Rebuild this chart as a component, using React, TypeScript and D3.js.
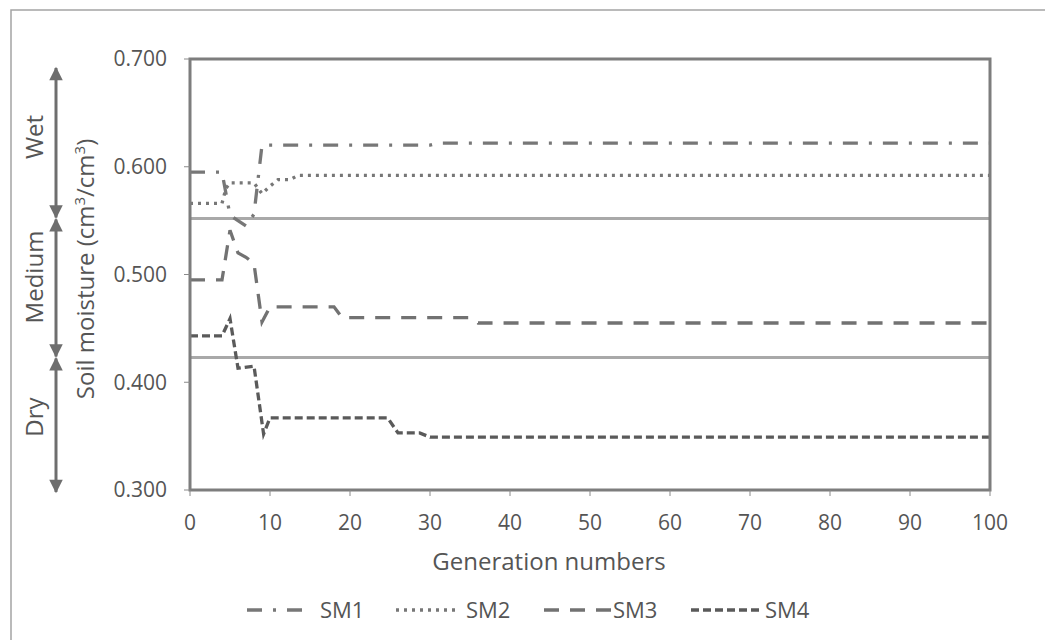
import React from 'react';
import * as d3 from 'd3';

// soil moisture per generation
const sm1 = [[0, 0.595], [4, 0.595], [5, 0.555], [7, 0.545], [8, 0.556], [9, 0.62], [30, 0.62], [31, 0.622], [100, 0.622]];
const sm2 = [[0, 0.566], [4, 0.566], [4.5, 0.58], [5, 0.585], [8, 0.585], [9, 0.575], [10, 0.582], [11, 0.588], [12.5, 0.588], [13.5, 0.592], [100, 0.592]];
const sm3 = [[0, 0.495], [4, 0.495], [5, 0.541], [6, 0.52], [7, 0.516], [8, 0.51], [9, 0.456], [10, 0.47], [18, 0.47], [19, 0.46], [35, 0.46], [36, 0.455], [100, 0.455]];
const sm4 = [[0, 0.443], [4, 0.443], [5, 0.459], [6, 0.413], [8, 0.415], [9.2, 0.352], [10, 0.367], [24.7, 0.367], [26, 0.353], [28.7, 0.353], [30, 0.349], [100, 0.349]];

const seriesNames = ['SM1', 'SM2', 'SM3', 'SM4'];
const xTicks = [0, 10, 20, 30, 40, 50, 60, 70, 80, 90, 100];
const yTicks = [0.3, 0.4, 0.5, 0.6, 0.7];
const thresholds = [0.552, 0.423];
const zones = [
  { name: 'Wet', from: 0.7, to: 0.552, label: 137 },
  { name: 'Medium', from: 0.552, to: 0.423, label: 277 },
  { name: 'Dry', from: 0.423, to: 0.3, label: 417 },
];

const FONT = '"Open Sans", sans-serif';
const TXT = '#555';

const styles = [
  { color: '#777', dash: '15,11,3,11' },
  { color: '#777', dash: '3,5' },
  { color: '#727272', dash: '15,11' },
  { color: '#5a5a5a', dash: '8,4' },
];

export default function App() {
  const left = 190, right = 990, top = 59, bottom = 490;
  const x = d3.scaleLinear().domain([0, 100]).range([left, right]);
  const y = d3.scaleLinear().domain([0.3, 0.7]).range([bottom, top]);
  const line = d3.line<number[]>().x((d) => x(d[0])).y((d) => y(d[1]));
  const data = [sm1, sm2, sm3, sm4];

  const arrowX = 56;
  const legendPos = [
    { sx: 247, len: 55, tx: 320 },
    { sx: 396, len: 62, tx: 466 },
    { sx: 544, len: 68, tx: 613 },
    { sx: 691, len: 72, tx: 765 },
  ];

  return (
    <svg width={1045} height={640} style={{ position: 'absolute', left: 0, top: 0, background: '#fff' }}>
      <path d="M11,640V10H1045" fill="none" stroke="#a4a4a4" strokeWidth={1.5} />

      {/* thresholds */}
      {thresholds.map((t) => (
        <line key={t} x1={left} x2={right} y1={y(t)} y2={y(t)} stroke="#a9a9a9" strokeWidth={3} />
      ))}

      {/* series */}
      {data.map((s, i) => (
        <path key={i} d={line(s) || ''} fill="none" stroke={styles[i].color} strokeWidth={3.3}
          strokeDasharray={styles[i].dash} />
      ))}

      <rect x={left} y={top} width={right - left} height={bottom - top} fill="none" stroke="#7d7d7d" strokeWidth={3} />

      {/* y axis */}
      {yTicks.map((t) => (
        <g key={t}>
          <line x1={left - 6} x2={left} y1={y(t)} y2={y(t)} stroke="#8a8a8a" strokeWidth={1} />
          <text x={167} y={y(t)} dy="0.35em" textAnchor="end" fontFamily={FONT} fontSize={21} fill={TXT}>
            {d3.format('.3f')(t)}
          </text>
        </g>
      ))}
      {/* x axis */}
      {xTicks.map((t) => (
        <g key={t}>
          <line x1={x(t)} x2={x(t)} y1={bottom} y2={bottom + 6} stroke="#8a8a8a" strokeWidth={1} />
          <text x={x(t)} y={523} dy="0.35em" textAnchor="middle" fontFamily={FONT} fontSize={21} fill={TXT}>
            {t}
          </text>
        </g>
      ))}
      <text x={549} y={562} dy="0.35em" textAnchor="middle" fontFamily={FONT} fontSize={24} fill={TXT}>
        Generation numbers
      </text>
      <text transform="translate(86,269) rotate(-90)" dy="0.35em" textAnchor="middle" fontFamily={FONT} fontSize={24} fill={TXT}>
        Soil moisture (cm<tspan dy="-9" fontSize={15}>3</tspan><tspan dy="9">/cm</tspan><tspan dy="-9" fontSize={15}>3</tspan><tspan dy="9">)</tspan>
      </text>

      {/* zone arrows */}
      <defs>
        <marker id="ah" viewBox="0 0 10 10" refX={9} refY={5} markerWidth={5} markerHeight={4.5} orient="auto-start-reverse">
          <path d="M0,0L10,5L0,10Z" fill="#6e6e6e" />
        </marker>
      </defs>
      {zones.map((z, i) => {
        const y1 = i === 0 ? y(z.from) + 8 : y(z.from);
        const y2 = i === 2 ? y(z.to) + 3 : y(z.to);
        return (
          <g key={z.name}>
            <line x1={arrowX} x2={arrowX} y1={y1 + 1} y2={y2 - 1} stroke="#6e6e6e" strokeWidth={3}
              markerStart="url(#ah)" markerEnd="url(#ah)" />
            <text transform={`translate(35,${z.label}) rotate(-90)`} dy="0.35em" textAnchor="middle"
              fontFamily={FONT} fontSize={24} fill={TXT}>
              {z.name}
            </text>
          </g>
        );
      })}

      {/* legend */}
      {seriesNames.map((n, i) => (
        <g key={n}>
          <line x1={legendPos[i].sx} x2={legendPos[i].sx + legendPos[i].len} y1={610} y2={610}
            stroke={styles[i].color} strokeWidth={3.3} strokeDasharray={styles[i].dash} />
          <text x={legendPos[i].tx} y={610} dy="0.35em" fontFamily={FONT} fontSize={22} fill={TXT}>{n}</text>
        </g>
      ))}
    </svg>
  );
}
